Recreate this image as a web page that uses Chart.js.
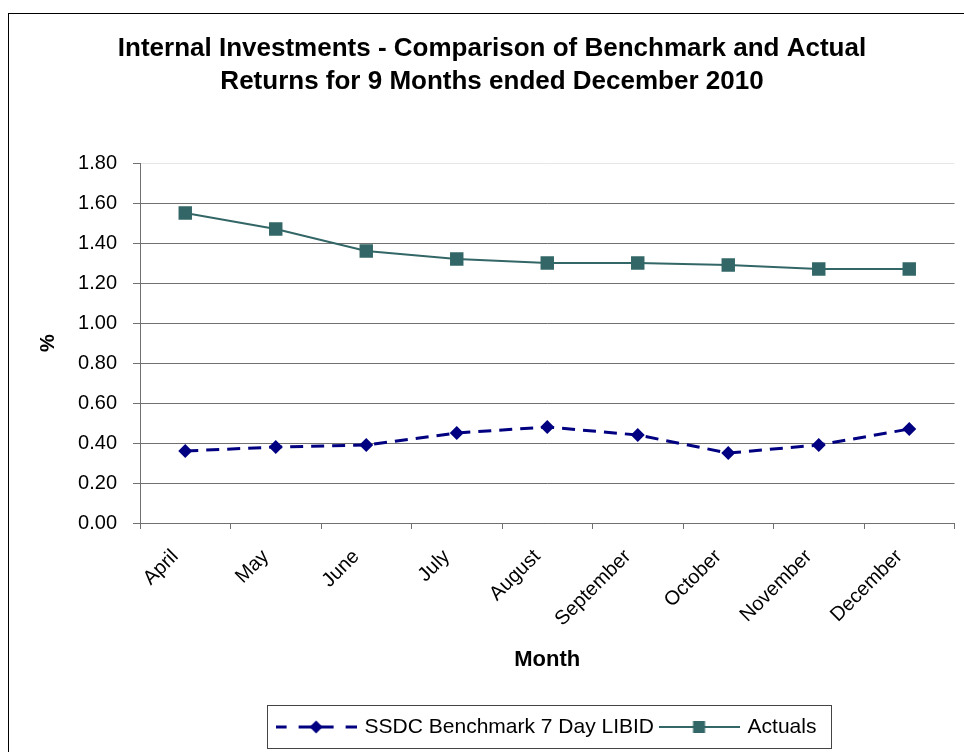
<!DOCTYPE html>
<html>
<head>
<meta charset="utf-8">
<script src="https://cdn.jsdelivr.net/npm/chart.js@4.4.1/dist/chart.umd.min.js"></script>
<style>
  html, body { margin: 0; padding: 0; background: #fff; }
  #wrap { width: 964px; height: 752px; position: relative; }
</style>
</head>
<body>
<div id="wrap"><canvas id="c" width="964" height="752"></canvas></div>
<script>
// ---- data ----
const months = ['April', 'May', 'June', 'July', 'August', 'September', 'October', 'November', 'December'];
const benchmark = [0.36, 0.38, 0.39, 0.45, 0.48, 0.44, 0.35, 0.39, 0.47];
const actuals = [1.55, 1.47, 1.36, 1.32, 1.30, 1.30, 1.29, 1.27, 1.27];
const titleLines = ['Internal Investments - Comparison of Benchmark and Actual', 'Returns for 9 Months ended December 2010'];
const seriesNames = ['SSDC Benchmark 7 Day LIBID', 'Actuals'];
const yMin = 0, yMax = 1.8, yStep = 0.2;

const FONT = "'Liberation Sans', Arial, sans-serif";
const NAVY = '#000080';
const TEAL = '#336666';
const GRID = '#707070';

// legend swatches (line + marker), drawn like the spreadsheet legend
function swatchBenchmark() {
  const c = document.createElement('canvas');
  c.width = 81; c.height = 16;
  const g = c.getContext('2d');
  g.strokeStyle = NAVY; g.lineWidth = 3;
  [[0, 11], [23, 58], [70, 81]].forEach(([a, b]) => {
    g.beginPath(); g.moveTo(a, 8); g.lineTo(b, 8); g.stroke();
  });
  g.fillStyle = NAVY;
  g.beginPath(); g.moveTo(40.5, 1.5); g.lineTo(47, 8); g.lineTo(40.5, 14.5); g.lineTo(34, 8); g.closePath(); g.fill();
  return c;
}
function swatchActuals() {
  const c = document.createElement('canvas');
  c.width = 81; c.height = 16;
  const g = c.getContext('2d');
  g.strokeStyle = TEAL; g.lineWidth = 2;
  g.beginPath(); g.moveTo(0, 8); g.lineTo(81, 8); g.stroke();
  g.fillStyle = TEAL;
  g.fillRect(34.5, 2, 12, 12);
  return c;
}
const swatches = [swatchBenchmark(), swatchActuals()];

const framePlugin = {
  id: 'frame',
  beforeDraw(chart) {
    const ctx = chart.ctx;
    ctx.save();
    ctx.fillStyle = '#fff';
    ctx.fillRect(0, 0, chart.width, chart.height);
    ctx.strokeStyle = '#000';
    ctx.lineWidth = 1;
    ctx.strokeRect(8.5, 13.5, chart.width + 20, chart.height + 20);
    ctx.restore();
  },
  afterDraw(chart) {
    const lg = chart.legend;
    if (!lg || !lg.legendHitBoxes || !lg.legendHitBoxes.length) return;
    const hb = lg.legendHitBoxes;
    const first = hb[0], last = hb[hb.length - 1];
    const x0 = Math.round(first.left - 11) + 0.5;
    const x1 = Math.round(last.left + last.width + 15) + 0.5;
    const y0 = Math.round(lg.top - 5) + 0.5;
    const y1 = Math.round(lg.bottom) + 0.5;
    const ctx = chart.ctx;
    ctx.save();
    ctx.strokeStyle = '#444';
    ctx.lineWidth = 1;
    ctx.strokeRect(x0, y0, x1 - x0, y1 - y0);
    ctx.restore();
  }
};

new Chart(document.getElementById('c'), {
  type: 'line',
  data: {
    labels: months,
    datasets: [
      {
        label: seriesNames[0],
        data: benchmark,
        borderColor: NAVY,
        backgroundColor: NAVY,
        borderWidth: 3,
        borderDash: [13, 8],
        pointStyle: 'rectRot',
        pointRadius: 7,
        pointHoverRadius: 7,
        pointBorderWidth: 0,
        tension: 0,
        fill: false
      },
      {
        label: seriesNames[1],
        data: actuals,
        borderColor: TEAL,
        backgroundColor: TEAL,
        borderWidth: 2,
        pointStyle: 'rect',
        pointRadius: 9.5,
        pointHoverRadius: 9.5,
        pointBorderWidth: 0,
        tension: 0,
        fill: false
      }
    ]
  },
  options: {
    responsive: false,
    animation: false,
    devicePixelRatio: 1,
    layout: { padding: { left: 27, right: 7, top: 0, bottom: 4.5 } },
    plugins: {
      title: {
        display: true,
        text: titleLines,
        color: '#000',
        font: { family: FONT, size: 26, weight: 'bold', lineHeight: 1.29 },
        padding: { top: 32, bottom: 64 }
      },
      legend: {
        display: true,
        position: 'bottom',
        fullSize: false,
        labels: {
          color: '#000',
          font: { family: FONT, size: 21 },
          usePointStyle: true,
          pointStyleWidth: 76,
          padding: 7,
          generateLabels(chart) {
            const items = Chart.defaults.plugins.legend.labels.generateLabels(chart);
            items.forEach((it, i) => { it.pointStyle = swatches[i]; });
            return items;
          }
        }
      },
      tooltip: { enabled: false }
    },
    scales: {
      x: {
        type: 'category',
        offset: true,
        afterFit(scale) { scale.height = 186.5; },
        grid: {
          offset: true,
          drawOnChartArea: false,
          drawTicks: true,
          tickLength: 6,
          tickColor: GRID,
          color: GRID
        },
        border: { display: true, color: GRID, width: 1 },
        ticks: {
          autoSkip: false,
          minRotation: 45,
          maxRotation: 45,
          padding: 16,
          labelOffset: -10,
          color: '#000',
          font: { family: FONT, size: 20 }
        },
        title: {
          display: true,
          text: 'Month',
          color: '#000',
          font: { family: FONT, size: 22, weight: 'bold' },
          padding: { top: 0, bottom: 36 }
        }
      },
      y: {
        min: yMin,
        max: yMax,
        afterFit(scale) { scale.width = 113; },
        grid: {
          color: (c) => (c.tick && Math.abs(c.tick.value - yMax) < 1e-9) ? '#e6e6e6' : GRID,
          tickColor: GRID,
          lineWidth: 1,
          drawTicks: true,
          tickLength: 7
        },
        border: { display: true, color: GRID, width: 1 },
        ticks: {
          stepSize: yStep,
          padding: 16,
          color: '#000',
          font: { family: FONT, size: 20 },
          callback: (v) => Number(v).toFixed(2)
        },
        title: {
          display: true,
          text: '%',
          color: '#000',
          font: { family: FONT, size: 20, weight: 'bold' },
          padding: { top: 9, bottom: 0 }
        }
      }
    }
  },
  plugins: [framePlugin]
});
</script>
</body>
</html>
